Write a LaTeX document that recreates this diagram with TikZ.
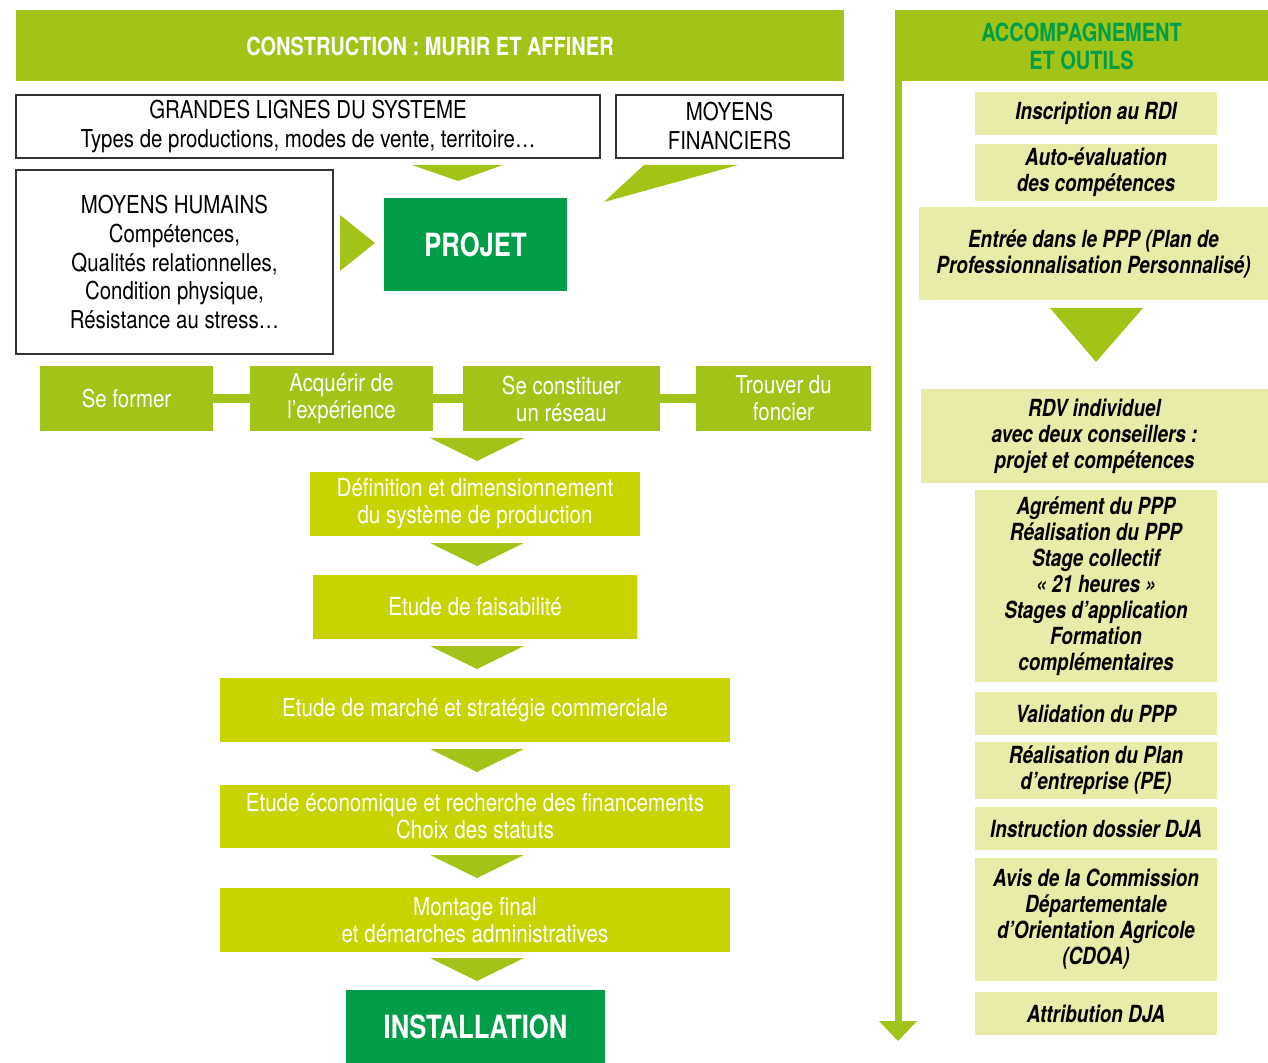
\documentclass[tikz,border=0pt]{standalone}
\usepackage{fontspec}
\setmainfont{TeX Gyre Heros}
\newfontfamily\cnreg{TeX Gyre Heros}[FakeStretch=0.83]
\newfontfamily\cnbold{TeX Gyre Heros}[FakeStretch=0.8]
\usetikzlibrary{arrows.meta}

\definecolor{lime}{HTML}{A2C418}
\definecolor{citron}{HTML}{C8D400}
\definecolor{deepgreen}{HTML}{009E49}
\definecolor{pale}{HTML}{E9EBA8}
\definecolor{framegray}{HTML}{333333}

\begin{document}
\begin{tikzpicture}[x=0.5pt, y=-0.5pt,
    every node/.style={inner sep=0pt, outer sep=0pt, align=center},
    boxsize/.style 2 args={minimum width=#1*0.5pt, minimum height=#2*0.5pt},
    headbar/.style={fill=lime, font=\cnbold\bfseries\fontsize{12.5}{14}\selectfont},
    whitebox/.style={draw=framegray, line width=0.6pt, fill=white,
        font=\cnreg\fontsize{12.3}{14.5}\selectfont},
    keybox/.style={fill=deepgreen, text=white, font=\cnbold\bfseries\fontsize{16}{18}\selectfont},
    rowbox/.style={fill=lime, text=white, font=\cnreg\fontsize{12.3}{13.5}\selectfont},
    procbox/.style={fill=citron, text=white, font=\cnreg\fontsize{12.4}{13.5}\selectfont},
    toolbox/.style={fill=pale, font=\cnbold\bfseries\itshape\fontsize{11.8}{13}\selectfont},
    tri/.style={fill=lime},
    rowlink/.style={draw=lime, line width=4.5pt},
    rail/.style={draw=lime, line width=3.5pt, -{Triangle[width=18.5pt, length=10pt]}}]
    \useasboundingbox (0,0) rectangle (1268,1063);

    % headers
    \node[headbar, text=white, boxsize={828}{71}] (construction) at (430,46)
        {CONSTRUCTION : MURIR ET AFFINER};
    \node[headbar, text=deepgreen, boxsize={373}{71}] (tools) at (1081.5,46)
        {ACCOMPAGNEMENT\\ET OUTILS};

    % inputs of the project
    \node[whitebox, boxsize={584}{63}] (grandes) at (308,126.5)
        {GRANDES LIGNES DU SYSTEME\\Types de productions, modes de vente, territoire…};
    \node[whitebox, boxsize={227}{63}] (financiers) at (729.5,126.5)
        {MOYENS\\FINANCIERS};
    \node[whitebox, boxsize={317}{184}] (humains) at (174.5,262)
        {MOYENS HUMAINS\\Compétences,\\Qualités relationnelles,\\Condition physique,\\Résistance au stress…};
    \node[keybox, boxsize={183}{93}] (projet) at (475.5,244.5) {PROJET};

    \fill[tri] (412,165) -- (503,165) -- (458,181) -- cycle;
    \fill[tri] (644,165) -- (738,165) -- (604,202) -- cycle;
    \fill[tri] (340,215) -- (340,271) -- (375,243) -- cycle;

    % the four ways to get there
    \node[rowbox, boxsize={173}{65}] (former) at (126.5,398.5) {Se former};
    \node[rowbox, boxsize={183}{65}] (acquerir) at (341.5,398.5) {Acquérir de\\l’expérience};
    \node[rowbox, boxsize={197}{65}] (reseau) at (561.5,398.5) {Se constituer\\un réseau};
    \node[rowbox, boxsize={175}{65}] (foncier) at (783.5,398.5) {Trouver du\\foncier};
    \draw[rowlink] (former) -- (acquerir);
    \draw[rowlink] (acquerir) -- (reseau);
    \draw[rowlink] (reseau) -- (foncier);

    % steps down to the installation
    \node[procbox, boxsize={330}{64}] (definition) at (475,504)
        {Définition et dimensionnement\\du système de production};
    \node[procbox, boxsize={324}{64}] (faisabilite) at (475,607) {Etude de faisabilité};
    \node[procbox, boxsize={510}{64}] (marche) at (475,710)
        {Etude de marché et stratégie commerciale};
    \node[procbox, boxsize={510}{63}] (economie) at (475,816.5)
        {Etude économique et recherche des financements\\Choix des statuts};
    \node[procbox, boxsize={510}{64}] (montage) at (475,920)
        {Montage final\\et démarches administratives};
    \node[keybox, boxsize={259}{73}] (installation) at (475.5,1026.5) {INSTALLATION};

    \foreach \t in {438,543,646,749,855,958}{% one arrow under each step
      \fill[tri] (430,\t) -- (524,\t) -- (477,\t+23) -- cycle;
    }

    % support column
    \coordinate (railtop) at (898,75);
    \coordinate (railend) at (898,1041);
    \draw[rail] (railtop) -- (railend);

    \node[toolbox, boxsize={242}{43}] (rdi) at (1096,113.5) {Inscription au RDI};
    \node[toolbox, boxsize={242}{57}] (autoeval) at (1096,172.5)
        {Auto-évaluation\\des compétences};
    \node[toolbox, boxsize={349}{93}] (entree) at (1093.5,253.5)
        {Entrée dans le PPP (Plan de\\Professionnalisation Personnalisé)};
    \fill[tri] (1050,308) -- (1143,308) -- (1096,362) -- cycle;
    \node[toolbox, boxsize={347}{94}] (rdv) at (1094.5,436)
        {RDV individuel\\avec deux conseillers :\\projet et compétences};
    \node[toolbox, boxsize={242}{192}] (agrement) at (1096,586)
        {Agrément du PPP\\Réalisation du PPP\\Stage collectif\\« 21 heures »\\Stages d’application\\Formation\\complémentaires};
    \node[toolbox, boxsize={242}{43}] (validation) at (1096,713.5) {Validation du PPP};
    \node[toolbox, boxsize={242}{57}] (plan) at (1096,770.5)
        {Réalisation du Plan\\d’entreprise (PE)};
    \node[toolbox, boxsize={242}{43}] (dossier) at (1096,828.5) {Instruction dossier DJA};
    \node[toolbox, boxsize={242}{123}] (cdoa) at (1096,919.5)
        {Avis de la Commission\\Départementale\\d’Orientation Agricole\\(CDOA)};
    \node[toolbox, boxsize={242}{43}] (dja) at (1096,1013.5) {Attribution DJA};
\end{tikzpicture}
\end{document}
